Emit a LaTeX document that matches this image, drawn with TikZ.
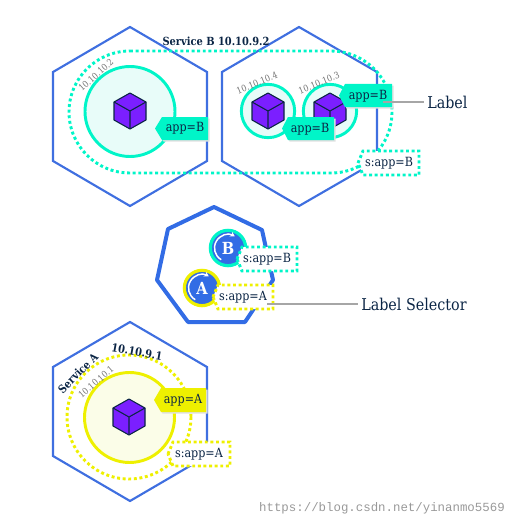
\documentclass[tikz,border=0pt]{standalone}
\usepackage{fontspec}
\usetikzlibrary{arrows.meta}
\setmainfont[FakeStretch=0.88]{DejaVu Serif}
\newfontfamily\wmfont{Liberation Mono}
\definecolor{kblue}{HTML}{326CE5}
\definecolor{hexblue}{HTML}{3F6FE0}
\definecolor{teal}{HTML}{00F5C8}
\definecolor{lteal}{HTML}{E8FCF9}
\definecolor{yel}{HTML}{EEF000}
\definecolor{lyel}{HTML}{FBFDE8}
\definecolor{navy}{HTML}{0B2545}
\definecolor{purp}{HTML}{7B1FFF}
\tikzset{
  hexa/.style={draw=hexblue,line width=1.6pt,line join=miter},
  dots/.style={line width=2.2pt,dash pattern=on 2.2pt off 2pt},
  pod/.style={line width=2.2pt},
  txt/.style={font=\fontsize{9.5pt}{11pt}\selectfont,text=navy,inner sep=0pt},
  big/.style={font=\fontsize{12.2pt}{14pt}\selectfont,text=navy,inner sep=0pt},
  svc/.style={font=\fontsize{8.4pt}{10pt}\selectfont\bfseries,text=navy,inner sep=0pt},
  ip/.style={font=\fontsize{6.8pt}{8pt}\selectfont,text=black!55,inner sep=0pt},
  logoletter/.style={font=\fontsize{12.5pt}{14pt}\selectfont\bfseries,text=white,inner sep=0pt},
  logoring/.style={circle,fill=kblue,line width=2.4pt,minimum size=26.5pt,inner sep=0pt},
  logoarc/.style={white,line width=1.1pt,-{Stealth[length=3.5pt,width=4pt]}},
  leader/.style={draw=black!35,line width=0.8pt,shorten >=2.5pt},
  shade/.style={fill=black!12},
  pics/cube/.style={code={
    \draw[fill=purp,draw=navy,line width=0.8pt,line join=round]
      (-16,-9) -- (0,-18) -- (16,-9) -- (16,9) -- (0,18) -- (-16,9) -- cycle;
    \draw[draw=navy,line width=0.8pt,line join=round] (-16,-9) -- (0,0) -- (16,-9) (0,0) -- (0,18);
  }},
}
% tag: tip x, body left x, right x, top y, bottom y, colour
\newcommand{\tagshape}[6]{%
  \fill[shade,xshift=1.2pt,yshift=-1.2pt] (#1,{(#4+#5)/2}) -- (#2,#4) -- (#3,#4) -- (#3,#5) -- (#2,#5) -- cycle;
  \fill[#6] (#1,{(#4+#5)/2}) -- (#2,#4) -- (#3,#4) -- (#3,#5) -- (#2,#5) -- cycle;}
\newcommand{\seltag}[5]{%
  \draw[fill=white,draw=#5,dots] (#1,{(#3+#4)/2}) -- ({#1+5},#3) -- (#2,#3) -- (#2,#4) -- ({#1+5},#4) -- cycle;}
\begin{document}
\begin{tikzpicture}[x=0.75pt,y=-0.75pt]
\useasboundingbox (0,0) rectangle (515,528);
% hexagons
\draw[hexa] (130,27) -- (207,72) -- (207,161) -- (130,206) -- (53,161) -- (53,72) -- cycle;
\draw[hexa] (299,27) -- (377,72) -- (377,161) -- (299,206) -- (222,161) -- (222,72) -- cycle;
\draw[hexa] (130,322) -- (207,367) -- (207,456) -- (130,501) -- (53,456) -- (53,367) -- cycle;
% service B selector
\draw[teal,dots] (130,51) -- (331,51) arc[start angle=-90,end angle=90,radius=61] -- (130,173) arc[start angle=90,end angle=270,radius=61] -- cycle;
% pods
\node[circle,draw=teal,fill=lteal,pod,minimum size=67.5pt,inner sep=0pt] (podb1) at (130,111.5) {};
\node[circle,draw=teal,fill=lteal,pod,minimum size=40pt,inner sep=0pt] (podb2) at (268,111) {};
\node[circle,draw=teal,fill=lteal,pod,minimum size=40pt,inner sep=0pt] (podb3) at (330,111) {};
\pic at (130,111) {cube};
\pic at (268,111) {cube};
\pic at (330,111) {cube};
% pod labels
\tagshape{155}{162}{208}{117}{140}{teal}
\node[txt] (la1) at (185,128.5) {app=B};
\tagshape{282}{288}{334}{117}{140}{teal}
\node[txt] (la2) at (310,129) {app=B};
\tagshape{339}{345}{392}{84}{107}{teal}
\node[txt] (la3) at (368,96) {app=B};
\seltag{358}{419}{151}{175}{teal}
\node[txt] (sb1) at (389,163.5) {s:app=B};
% Label
\node[big,anchor=west] (lab) at (427,102) {Label};
\coordinate (labfrom) at (383,102);
\draw[leader] (labfrom) -- (labfrom -| lab.west);
% IPs and service name
\node[svc] (svb) at (216,41) {Service B 10.10.9.2};
\node[ip,rotate=42] (ip2) at (96,75) {10.10.10.2};
\node[ip,rotate=22] (ip4) at (257,83) {10.10.10.4};
\node[ip,rotate=22] (ip3) at (319,83) {10.10.10.3};
% heptagon
\draw[kblue,line width=3pt,line join=round] (214,207) -- (262,230) -- (273,280) -- (245,322) -- (188,322) -- (157,280) -- (168,229) -- cycle;
% B logo
\node[logoring,draw=teal] (lb) at (228,248) {};
\draw[logoarc] (lb.center) ++(120:13.5) arc[start angle=120,end angle=300,radius=13.5];
\node[logoletter] (lbt) at (228,248) {B};
% A logo
\node[logoring,draw=yel] (la) at (202,288) {};
\draw[logoarc] (la.center) ++(120:13.5) arc[start angle=120,end angle=300,radius=13.5];
\node[logoletter] (lat) at (202,288) {A};
% selector tags
\seltag{237}{297}{247}{271}{teal}
\node[txt] (sb2) at (267,259) {s:app=B};
\seltag{213}{273}{285}{309}{yel}
\node[txt] (sa2) at (243,297) {s:app=A};
\node[big,anchor=west] (ls) at (361,304) {Label Selector};
\coordinate (lsfrom) at (267,304);
\draw[leader] (lsfrom) -- (lsfrom -| ls.west);
% service A
\draw[yel,dots] (129,417) circle[radius=62];
\node[circle,draw=yel,fill=lyel,pod,minimum size=67.5pt,inner sep=0pt] (poda) at (129.5,417.5) {};
\pic at (129,417) {cube};
\tagshape{154}{161}{206}{388}{412}{yel}
\node[txt] (la4) at (183,400) {app=A};
\seltag{168}{230}{442}{466}{yel}
\node[txt] (sa1) at (199,454) {s:app=A};
\node[svc,rotate=45] (sva) at (78,373) {Service A};
\node[svc,rotate=-10] (svn) at (137,352) {10.10.9.1};
\node[ip,rotate=41] (ip1) at (96,382) {10.10.10.1};
% watermark
\node[font=\fontsize{9.3pt}{11pt}\selectfont\wmfont,text=black!40,inner sep=0pt,anchor=east] (wm) at (505,508) {https://blog.csdn.net/yinanmo5569};
\end{tikzpicture}
\end{document}
